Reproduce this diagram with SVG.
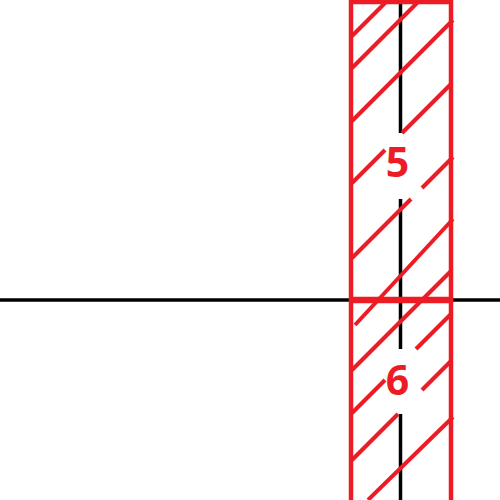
<svg xmlns="http://www.w3.org/2000/svg" width="500" height="500" viewBox="0 0 500 500">
<style>
.blk{stroke:#000;stroke-width:3.5;fill:none}
.red{stroke:#ED1C24;fill:none}
.edge{stroke-width:4.5}
.hatch{stroke-width:4}
.bar{stroke-width:6.5}
.lbl{font-family:"Open Sans","Liberation Sans",sans-serif;font-weight:bold;font-size:41px;fill:#ED1C24;text-anchor:middle}
</style>
<rect width="500" height="500" fill="#fff"/>
<g id="axes">
<line class="blk" x1="0" y1="300" x2="500" y2="300"/>
<line class="blk" x1="400.5" y1="0" x2="400.5" y2="133"/>
<line class="blk" x1="400.5" y1="199" x2="400.5" y2="349"/>
<line class="blk" x1="400.5" y1="414" x2="400.5" y2="500"/>
</g>
<g id="column">
<path class="red edge" d="M351,510 V2 H451 V510"/>
<line class="red bar" x1="351" y1="300" x2="451" y2="300"/>
</g>
<g id="hatching" class="red hatch">
<line x1="352" y1="36" x2="386" y2="2"/>
<line x1="352" y1="68" x2="418" y2="2"/>
<line x1="352" y1="121" x2="453" y2="20"/>
<line x1="352" y1="183" x2="385" y2="150"/>
<line x1="402" y1="133" x2="451" y2="84"/>
<line x1="352" y1="258" x2="411" y2="199"/>
<line x1="422" y1="188" x2="453" y2="157"/>
<line x1="355" y1="325" x2="453" y2="219"/>
<line x1="352" y1="370" x2="451" y2="271"/>
<line x1="352" y1="413" x2="385" y2="380"/>
<line x1="416" y1="349" x2="451" y2="314"/>
<line x1="352" y1="460" x2="398" y2="414"/>
<line x1="422" y1="390" x2="451" y2="361"/>
<line x1="368" y1="500" x2="453" y2="417"/>
</g>
<g id="region5"><text class="lbl" x="397.5" y="177">5</text></g>
<g id="region6"><text class="lbl" x="397.5" y="395">6</text></g>
</svg>
